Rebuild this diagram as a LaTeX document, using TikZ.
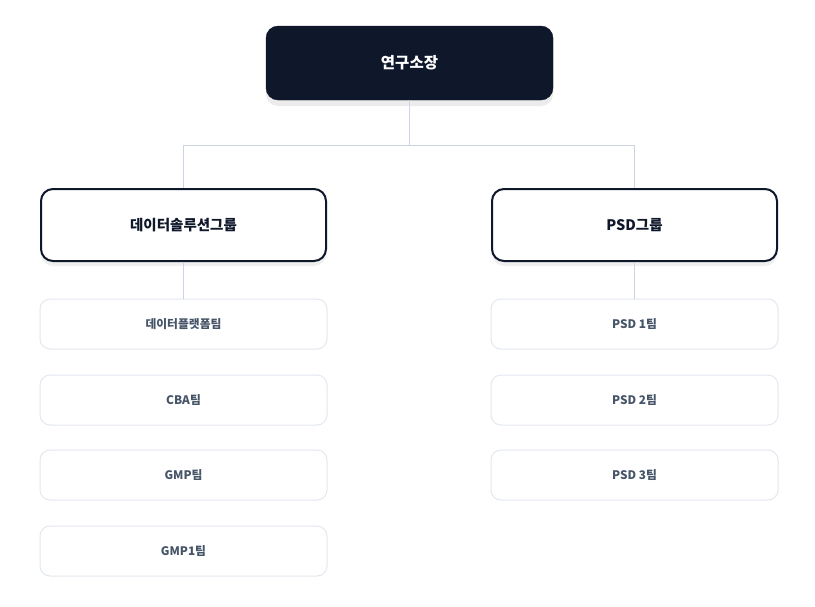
\documentclass[tikz,border=0pt]{standalone}
\usepackage{fontspec}
\setmainfont{Noto Sans CJK KR}
\usepackage{xcolor}
\usetikzlibrary{shadows}

\definecolor{navy}{HTML}{0F172A}
\definecolor{linegray}{HTML}{CBD5E1}
\definecolor{teamborder}{HTML}{E2E8F0}
\definecolor{teamtext}{HTML}{475569}

\begin{document}
\begin{tikzpicture}[x=1pt,y=-1pt,
    headbox/.style={rectangle,rounded corners=12pt,fill=navy,draw=navy,
      minimum width=287pt,minimum height=74pt,text=white,
      font=\bfseries\fontsize{15.5}{18}\selectfont,
      drop shadow={opacity=0.15,shadow xshift=0pt,shadow yshift=-6pt}},
    groupbox/.style={rectangle,rounded corners=12pt,fill=white,draw=navy,line width=2pt,
      minimum width=285pt,minimum height=72pt,text=navy,
      font=\bfseries\fontsize{14.5}{17}\selectfont,
      drop shadow={opacity=0.12,shadow xshift=0pt,shadow yshift=-5pt}},
    teambox/.style={rectangle,rounded corners=10pt,fill=white,draw=teamborder,line width=1pt,
      minimum width=287pt,minimum height=50pt,text=teamtext,
      font=\bfseries\fontsize{11.8}{14}\selectfont},
    link/.style={draw=linegray,line width=1pt}]
    % Page
    \useasboundingbox[fill=white] (0,0) rectangle (815,606);

    % Head
    \node[headbox] (head) at (409.5,63) {연구소장};

    % Groups
    \node[groupbox] (dsg) at (183.5,225) {데이터솔루션그룹};
    \node[groupbox] (psd) at (634.5,225) {PSD그룹};

    % Teams of the data solution group
    \node[teambox] (dp)   at (183.5,324) {데이터플랫폼팀};
    \node[teambox] (cba)  at (183.5,400) {CBA팀};
    \node[teambox] (gmp)  at (183.5,475) {GMP팀};
    \node[teambox] (gmpa) at (183.5,551) {GMP1팀};

    % Teams of the PSD group
    \node[teambox] (psda) at (634.5,324) {PSD 1팀};
    \node[teambox] (psdb) at (634.5,400) {PSD 2팀};
    \node[teambox] (psdc) at (634.5,475) {PSD 3팀};

    % Connectors
    \coordinate (bus) at (409.5,145);
    \draw[link] (head.south) -- (bus) -| (dsg.north);
    \draw[link] (bus) -| (psd.north);
    \draw[link] (dsg.south) -- (dp.north);
    \draw[link] (psd.south) -- (psda.north);
  \end{tikzpicture}
\end{document}
